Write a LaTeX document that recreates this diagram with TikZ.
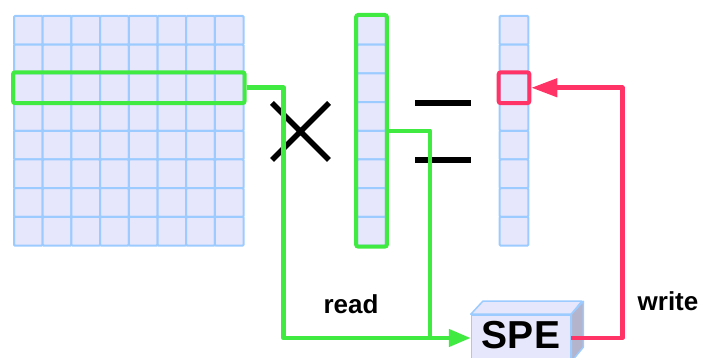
\documentclass[tikz,border=0pt]{standalone}
\usepackage{fontspec}
\setmainfont{Liberation Sans}
\usetikzlibrary{arrows.meta,positioning,fit}

\definecolor{cellfill}{RGB}{230,230,252}
\definecolor{cellline}{RGB}{156,204,255}
\definecolor{readgreen}{RGB}{64,234,64}
\definecolor{writered}{RGB}{255,51,102}
\definecolor{sideface}{RGB}{180,180,204}

\begin{document}
\begin{tikzpicture}[
  x=1pt, y=1pt,
  cell/.style={rectangle, draw=cellline, fill=cellfill, line width=2pt, minimum size=28.7pt, inner sep=0pt, rounded corners=1pt},
  readmark/.style={rectangle, draw=readgreen, line width=4pt, rounded corners=2pt, inner sep=0pt},
  writemark/.style={rectangle, draw=writered, line width=4pt, rounded corners=2pt, inner sep=0pt},
  op/.style={line width=5.5pt, black},
  spebox/.style={rectangle, draw=cellline, fill=cellfill, line width=1.5pt, minimum width=99pt, minimum height=46pt, inner sep=0pt},
  lbl/.style={font=\bfseries\fontsize{26}{26}\selectfont},
  readwire/.style={readgreen, line width=4.5pt, line join=round},
  writewire/.style={writered, line width=4.5pt, line join=round},
  arr/.style={-{Triangle[length=22pt, width=17pt]}}
]
  \useasboundingbox (0,0) rectangle (704,358);

  % matrix, input vector and result vector
  \foreach \r in {0,...,7} {
    \foreach \c in {0,...,7}
      \node[cell] (a-\r-\c) at ({28.35+28.7*\c}, {327.65-28.7*\r}) {};
    \node[cell] (b-\r) at (371.5, {327.65-28.7*\r}) {};
    \node[cell] (c-\r) at (514, {327.65-28.7*\r}) {};
  }

  \node[readmark, fit=(a-2-0)(a-2-7)] (rowA) {};
  \node[readmark, fit=(b-0)(b-7)] (vecB) {};
  \node[writemark, fit=(c-2)] (cellC) {};

  % times and equals signs
  \draw[op] (272,255) -- (329,198) (272,198) -- (329,255);
  \draw[op, line width=6pt] (415,255) -- (471,255) (415,198) -- (471,198);

  % the SPE box
  \node[spebox] (box) at (521,20) {};
  \draw[cellline, fill=cellfill, line width=1.5pt, line join=round]
    (box.north west) -- ++(12,13) -- ++(99,0) -- (box.north east) -- cycle;
  \draw[cellline, fill=sideface, line width=1.5pt, line join=round]
    (box.north east) -- ++(12,13) -- ++(0,-46) -- (box.south east) -- cycle;
  \node[inner sep=0pt, font=\bfseries\fontsize{39}{39}\selectfont] (spe) at (521,23) {SPE};

  % read and write paths
  \coordinate (merge) at (430,20);
  \draw[readwire] (vecB.east) -| (merge);
  \draw[readwire, arr] (rowA.east) -- ++(37,0) |- (box.west);
  \draw[writewire, arr, -{Triangle[length=26pt, width=18pt]}] (box.east) -- ++(51,0) |- (cellC.east);

  \node[lbl] (read) at (351,54) {read};
  \node[lbl] (write) at (668,57) {write};
\end{tikzpicture}
\end{document}
